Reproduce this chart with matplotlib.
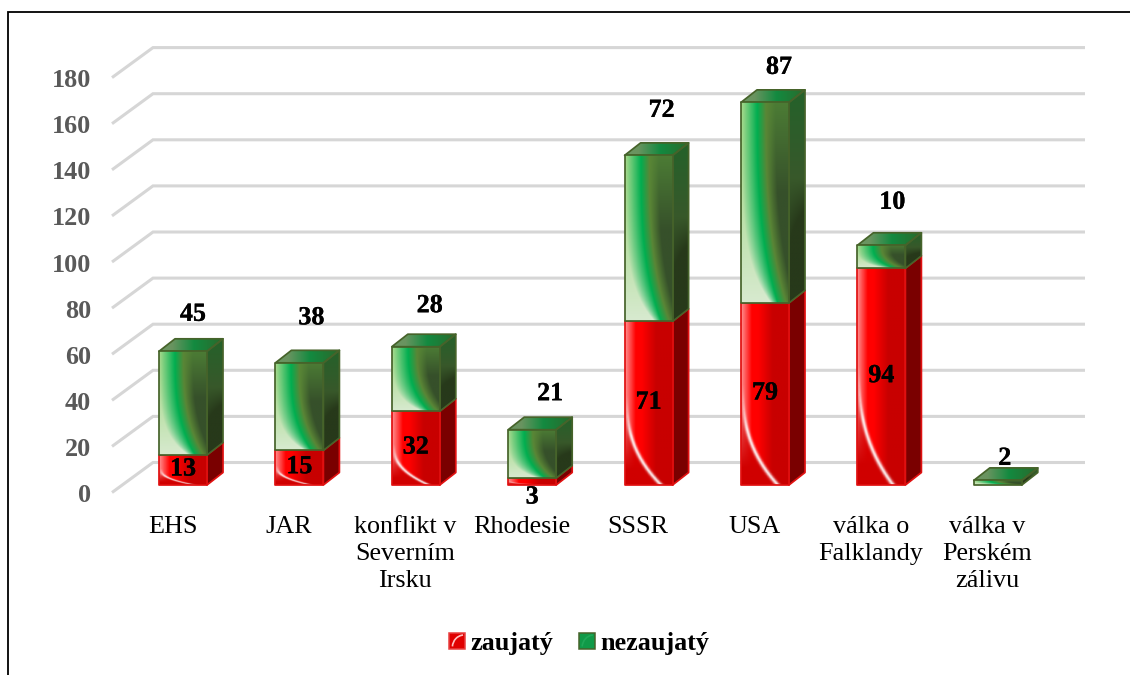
import numpy as np
import matplotlib
matplotlib.use("Agg")
import matplotlib.pyplot as plt
import matplotlib.patheffects as pe
from matplotlib.colors import to_rgb
from matplotlib.lines import Line2D
from matplotlib.patches import Polygon, Rectangle, Arc
from matplotlib.transforms import ScaledTranslation
from matplotlib.legend_handler import HandlerBase

# ---------- data ----------
categories = ["EHS", "JAR", "konflikt v\nSeverním\nIrsku", "Rhodesie", "SSSR", "USA",
              "válka o\nFalklandy", "válka v\nPerském\nzálivu"]
zaujaty = [13, 15, 32, 3, 71, 79, 94, 0]
nezaujaty = [45, 38, 28, 21, 72, 87, 10, 2]
y_ticks = [0, 20, 40, 60, 80, 100, 120, 140, 160, 180]
series_names = ["zaujatý", "nezaujatý"]

# ---------- layout (pixels) ----------
W, H = 1130, 675
PX_PER_CAT = 116.4
PX_PER_UNIT = 2.305
CENTER0 = 183.0
BASE_Y = 485.0
AX_L, AX_R, AX_T = 112.0, 1085.0, 30.0
BAR_W = 48.0 / PX_PER_CAT
BAR_DX = 16.0 / PX_PER_CAT
BAR_DY = 12.5 / PX_PER_UNIT
GRID_FRONT_DX = 0.0
GRID_BACK_DX = 41.0 / PX_PER_CAT
GRID_FRONT_DY = -7.5 / PX_PER_UNIT
GRID_BACK_DY = 22.5 / PX_PER_UNIT

# label nudges in pixels (x, y) relative to the top of each stack
green_label_nudge = [(10, 37), (12, 45), (14, 41), (18, 36), (13, 45), (14, 35), (11, 43), (7, 22)]

FONT = "Liberation Serif"
FS = 18.8
HEAVY = [pe.withStroke(linewidth=0.2, foreground="black")]


def c(h):
    return np.array(to_rgb(h))


def lerp(a, b, t):
    t = np.clip(t, 0, 1)[..., None]
    return a * (1 - t) + b * t


def grid_uv(n_u=60, n_v=200):
    u, v = np.meshgrid(np.linspace(0, 1, n_u), np.linspace(0, 1, n_v))
    return u, v


def tex_green_front():
    u, v = grid_uv()
    b = 0.33 + 0.42 * v ** 3
    plateau = (b - 0.14) * v ** 3
    light = lerp(c("#a8da8c"), c("#d8ead0"), v ** 1.5)
    green = c("#00ae50")
    olive = c("#5a8636")
    right = lerp(c("#4c7c35"), c("#36502a"), v * 2.2)
    left_part = lerp(light, green, (u - plateau) / np.maximum(b - plateau, 1e-3))
    mid = lerp(green, olive, (u - b) / 0.18)
    right_part = lerp(olive, right, (u - b - 0.18) / 0.2)
    img = np.where((u < b)[..., None], left_part, np.where((u < b + 0.18)[..., None], mid, right_part))
    return img


def tex_green_side():
    u, v = grid_uv(20, 200)
    top = c("#24622a")
    mid = c("#38582a")
    low = c("#27391a")
    img = lerp(top, mid, v / 0.42)
    t = np.clip(v - 0.42, 0, None) * (1 + u) / 0.3
    return lerp(img, low, t)


def tex_green_top():
    u, v = grid_uv(60, 10)
    img = lerp(c("#6a9460"), c("#138a40"), (u - 0.2) / 0.35)
    img2 = lerp(c("#138a40"), c("#2a6a2c"), (u - 0.55) / 0.45)
    return np.where((u < 0.55)[..., None], img, img2)


def tex_red_front():
    u, v = grid_uv(80, 300)
    img = lerp(c("#ff9090"), c("#ff0000"), u / 0.22)
    img2 = lerp(c("#ff0000"), c("#c80000"), (u - 0.35) / 0.3)
    img = np.where((u < 0.25)[..., None], img, img2)
    s = np.clip((v - 0.45) / 0.55, 0, 1)
    arc = 0.03 + 0.72 * s ** 2.6
    strength = np.clip(s * 2.2, 0, 1) * np.exp(-((u - arc) / (0.03 + 0.025 * s)) ** 2)
    dark = np.clip(s * 1.2, 0, 1) * (u < arc)
    img = lerp(img, c("#d00000"), dark)
    return lerp(img, c("#ffffff"), strength * 0.9)


TEX = {
    "gf": tex_green_front(), "gs": tex_green_side(), "gt": tex_green_top(),
    "rf": tex_red_front(),
}
GREEN_EDGE = "#46632a"
RED_EDGE = "#e01010"
RED_SIDE = "#7a0000"


def textured(ax, pts, tex, edge, z):
    pts = np.asarray(pts)
    patch = Polygon(pts, closed=True, facecolor="none", edgecolor=edge, lw=1.25, zorder=z + 0.1,
                    joinstyle="round", clip_on=False)
    ax.add_patch(patch)
    im = ax.imshow(tex, extent=[pts[:, 0].min(), pts[:, 0].max(), pts[:, 1].min(), pts[:, 1].max()],
                   origin="upper", aspect="auto", interpolation="bilinear", zorder=z)
    clip = Polygon(pts, closed=True, transform=ax.transData)
    im.set_clip_path(clip)
    return im


def solid(ax, pts, color, edge, z):
    ax.add_patch(Polygon(pts, closed=True, facecolor=color, edgecolor=edge, lw=1.25, zorder=z,
                         joinstyle="round", clip_on=False))


def value_text(ax, text, xy, offset_px):
    ax.annotate(text, xy, xytext=(offset_px[0] * 0.72, offset_px[1] * 0.72), textcoords="offset points",
                ha="center", va="center", family=FONT, weight="bold", fontsize=FS, color="black",
                zorder=30, annotation_clip=False, path_effects=HEAVY)


fig = plt.figure(figsize=(W / 100, H / 100), dpi=100)
ax = fig.add_axes([AX_L / W, 1 - BASE_Y / H, (AX_R - AX_L) / W, (BASE_Y - AX_T) / H])
ax.set_facecolor("none")
xlim = ((AX_L - CENTER0) / PX_PER_CAT, (AX_R - CENTER0) / PX_PER_CAT)
ylim = (0, (BASE_Y - AX_T) / PX_PER_UNIT)
for s in ax.spines.values():
    s.set_visible(False)

# gridlines with the oblique floor/wall corner
for t in y_ticks:
    ax.plot([xlim[0] + GRID_FRONT_DX, xlim[0] + GRID_BACK_DX, xlim[1]],
            [t + GRID_FRONT_DY, t + GRID_BACK_DY, t + GRID_BACK_DY],
            color="#d6d6d6", lw=2.2, zorder=1, clip_on=False, solid_joinstyle="miter",
            solid_capstyle="butt")

# stacked 3-D bars
for i, (r, g) in enumerate(zip(zaujaty, nezaujaty)):
    x0, x1 = i - BAR_W / 2, i + BAR_W / 2
    z = 3 + i
    if r > 0:
        side = [(x1, 0), (x1 + BAR_DX, BAR_DY), (x1 + BAR_DX, r + BAR_DY), (x1, r)]
        solid(ax, side, RED_SIDE, RED_EDGE, z)
        textured(ax, [(x0, 0), (x1, 0), (x1, r), (x0, r)], TEX["rf"], RED_EDGE, z + 0.2)
    y0, y1 = r, r + g
    z2 = z + 0.4
    textured(ax, [(x1, y0), (x1 + BAR_DX, y0 + BAR_DY), (x1 + BAR_DX, y1 + BAR_DY), (x1, y1)],
             TEX["gs"], GREEN_EDGE, z2)
    textured(ax, [(x0, y1), (x1, y1), (x1 + BAR_DX, y1 + BAR_DY), (x0 + BAR_DX, y1 + BAR_DY)],
             TEX["gt"], GREEN_EDGE, z2)
    textured(ax, [(x0, y0), (x1, y0), (x1, y1), (x0, y1)], TEX["gf"], GREEN_EDGE, z2 + 0.2)

    # value labels
    if r > 0:
        if r < 8:
            value_text(ax, str(r), (i, 0), (0, -12))
        else:
            value_text(ax, str(r), (i, r / 2), (0, 1))
    value_text(ax, str(g), (i, y1), green_label_nudge[i])

ax.set_xlim(*xlim)
ax.set_ylim(*ylim)

# axes ticks
ax.set_yticks(y_ticks)
ax.set_yticklabels([str(t) for t in y_ticks], family=FONT, weight="bold", fontsize=FS, color="#595959")
ax.set_xticks(range(len(categories)))
ax.set_xticklabels(categories, family=FONT, fontsize=FS, color="black", linespacing=1.32)
ax.tick_params(axis="both", length=0)
ax.tick_params(axis="y", pad=15)
ax.tick_params(axis="x", pad=22)
for lab in ax.get_yticklabels():
    lab.set_transform(lab.get_transform() + ScaledTranslation(0, -8 / 100, fig.dpi_scale_trans))
for lab in ax.get_xticklabels():
    lab.set_transform(lab.get_transform() + ScaledTranslation(-10.5 / 100, 0, fig.dpi_scale_trans))


# legend swatches
class Swatch(HandlerBase):
    def __init__(self, face, edge, glow):
        super().__init__()
        self.face, self.edge, self.glow = face, edge, glow

    def create_artists(self, legend, orig_handle, xdescent, ydescent, width, height, fontsize, trans):
        r = Rectangle((-xdescent, -ydescent), width, height, facecolor=self.face, edgecolor=self.edge,
                      lw=1.1, transform=trans)
        a = Arc((-xdescent + width * 0.95, -ydescent + height * 0.1), width * 1.5, height * 1.5,
                theta1=95, theta2=175, color=self.glow, lw=1.2, transform=trans)
        return [r, a]


h_red = Rectangle((0, 0), 1, 1)
h_green = Rectangle((0, 0), 1, 1)
fig.legend([h_red, h_green], series_names, loc="center", bbox_to_anchor=(579 / W, 1 - 643.5 / H),
           ncol=2, frameon=False, handlelength=0.6, handleheight=0.6, handletextpad=0.2,
           columnspacing=1.0, borderpad=0, borderaxespad=0,
           prop={"family": FONT, "weight": "bold", "size": FS},
           handler_map={h_red: Swatch("#e00000", "#e84040", "#ffc0c0"),
                        h_green: Swatch("#109a48", "#46632a", "#20a858")})

# outer frame (left and top edges)
fig.add_artist(Line2D([8 / W, 8 / W, 1], [0, 1 - 12 / H, 1 - 12 / H], color="black", lw=1.3,
                      solid_joinstyle="miter"))

fig.savefig("out.png", dpi=100)
